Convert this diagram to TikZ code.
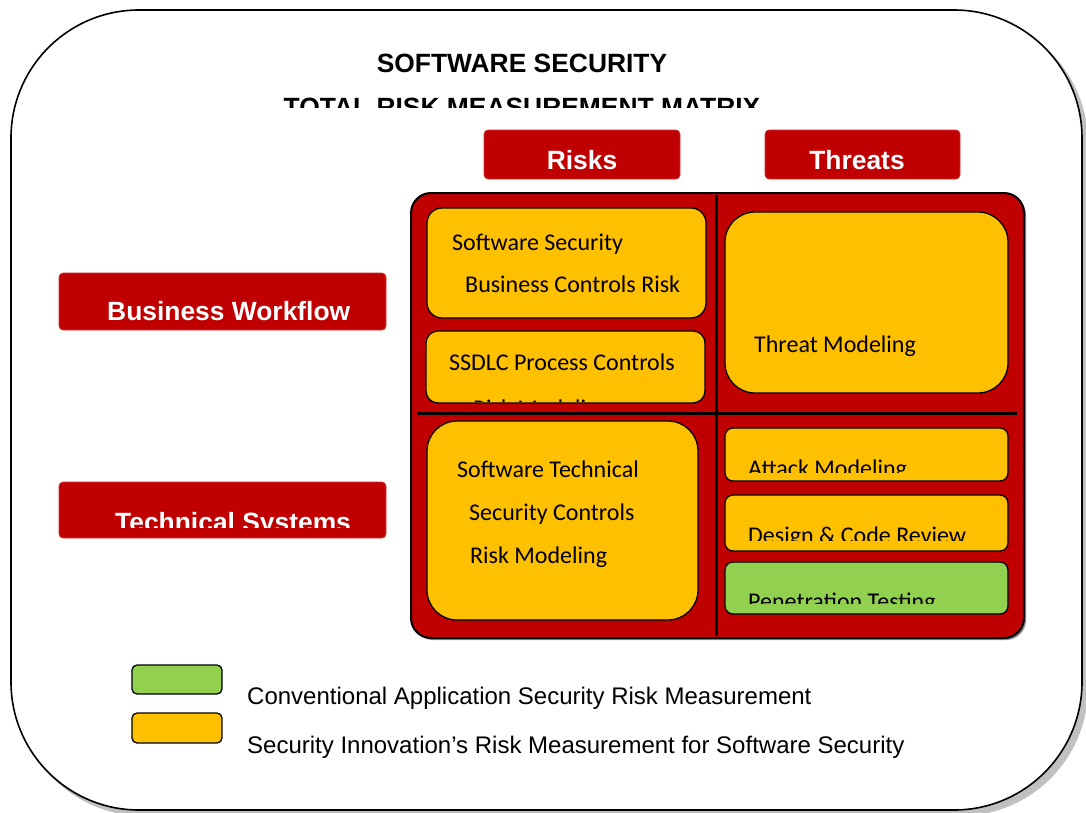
\documentclass[tikz,border=0pt]{standalone}
\usepackage{fontspec}
\setmainfont{Liberation Sans}
\newfontfamily\bodyfont{Carlito}
\definecolor{matrixred}{HTML}{C00000}
\definecolor{cellgold}{HTML}{FFC000}
\definecolor{cellgreen}{HTML}{92D050}
\definecolor{shadowgray}{HTML}{C0C0C0}
\begin{document}
\begin{tikzpicture}[x=1pt,y=-1pt,
  header/.style={fill=matrixred, draw=matrixred!80!white, line width=0.6pt, rounded corners=4pt},
  headtext/.style={text=white, font=\fontsize{26.4}{30}\selectfont\bfseries, inner sep=0pt},
  cell/.style={fill=cellgold, draw=black, line width=1.3pt},
  conventional/.style={fill=cellgreen, draw=black, line width=1.3pt},
  celltext/.style={font=\bodyfont\fontsize{24}{28}\selectfont, inner sep=0pt, anchor=base west},
  legendtext/.style={font=\fontsize{24}{28}\selectfont, inner sep=0pt, anchor=base west},
  divider/.style={draw=black, line width=3pt}]
\useasboundingbox (0,0) rectangle (1086,812);

% outer panel with its drop shadow
\fill[shadowgray, rounded corners=128pt] (16,15) rectangle (1088,816);
\draw[fill=white, line width=1.6pt, rounded corners=128pt] (11,10) rectangle (1082,810);

% title
\node[inner sep=0pt, anchor=base, font=\fontsize{26.4}{30}\selectfont\bfseries] (title) at (522,72) {SOFTWARE SECURITY};
\begin{scope}
  \clip (0,0) rectangle (1086,107);
  \node[inner sep=0pt, anchor=base, font=\fontsize{26.4}{30}\selectfont\bfseries] (subtitle) at (522,116) {TOTAL RISK MEASUREMENT MATRIX};
\end{scope}

% column headers
\path[header] (484,130) rectangle (680,179);
\node[headtext, anchor=base] (risks) at (582,169) {Risks};
\path[header] (765,130) rectangle (960,179);
\node[headtext, anchor=base] (threats) at (857,169) {Threats};

% row headers
\path[header] (59,273) rectangle (386,330);
\node[headtext, anchor=base west] (business) at (107,320) {Business Workflow};
\path[header] (59,482) rectangle (386,538);
\begin{scope}
  \clip (59,482) rectangle (386,527);
  \node[headtext, anchor=base west] (technical) at (115,531) {Technical Systems};
\end{scope}

% matrix frame and quadrant dividers
\fill[black!45, rounded corners=20pt] (413,195) rectangle (1026,640);
\draw[fill=matrixred, line width=2pt, rounded corners=20pt] (411,193) rectangle (1024,638);
\draw[divider] (716,195) -- (716,636);
\draw[divider] (417,413) -- (1017,413);

% business / risks
\draw[cell, rounded corners=15pt] (427,208) rectangle (706,318);
\node[celltext] (bizrisk1) at (452,250) {Software Security};
\node[celltext] (bizrisk2) at (465,292) {Business Controls Risk};
\draw[cell, rounded corners=12pt] (426,331) rectangle (705,403);
\begin{scope}
  \clip (426,331) rectangle (705,401);
  \node[celltext] (ssdlc1) at (449,370) {SSDLC Process Controls};
  \node[celltext] (ssdlc2) at (473,416) {Risk Modeling};
\end{scope}

% business / threats
\draw[cell, rounded corners=30pt] (725,212) rectangle (1008,393);
\node[celltext] (threatmod) at (754,352) {Threat Modeling};

% technical / risks
\draw[cell, rounded corners=30pt] (427,421) rectangle (698,620);
\node[celltext] (techrisk1) at (457,477) {Software Technical};
\node[celltext] (techrisk2) at (469,520) {Security Controls};
\node[celltext] (techrisk3) at (470,563) {Risk Modeling};

% technical / threats
\draw[cell, rounded corners=8pt] (725,428) rectangle (1008,481);
\begin{scope}
  \clip (725,428) rectangle (1008,472);
  \node[celltext] (attack) at (748,476) {Attack Modeling};
\end{scope}
\draw[cell, rounded corners=8pt] (725,495) rectangle (1008,551);
\begin{scope}
  \clip (725,495) rectangle (1008,540);
  \node[celltext] (review) at (748,543) {Design \& Code Review};
\end{scope}
\draw[conventional, rounded corners=8pt] (725,562) rectangle (1008,614);
\begin{scope}
  \clip (725,562) rectangle (1008,603);
  \node[celltext] (pentest) at (748,609) {Penetration Testing};
\end{scope}

% legend
\draw[conventional, rounded corners=5pt] (132,665) rectangle (222,694);
\node[legendtext] (legconv) at (247,704) {Conventional Application Security Risk Measurement};
\draw[cell, rounded corners=5pt] (132,713) rectangle (222,743);
\node[legendtext] (leginno) at (247,753) {Security Innovation’s Risk Measurement for Software Security};
\end{tikzpicture}
\end{document}
